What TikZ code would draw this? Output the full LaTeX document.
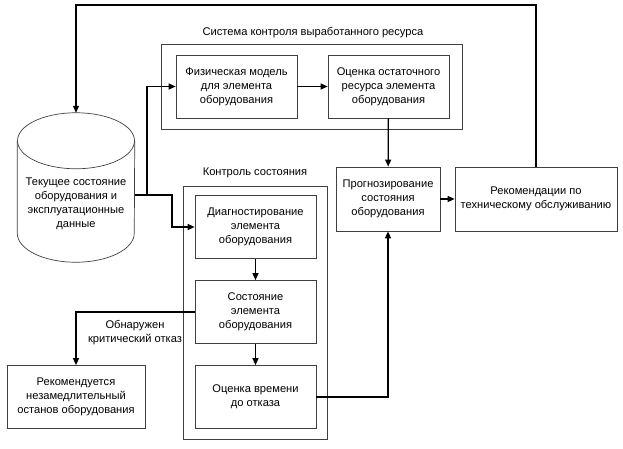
\documentclass[tikz,border=0pt]{standalone}
\usepackage{fontspec}
\setmainfont{Liberation Sans}
\usetikzlibrary{shapes.geometric,arrows.meta,positioning,calc}

\begin{document}
\begin{tikzpicture}[
    x=0.03cm, y=-0.03cm,
    font=\fontsize{9.5}{12}\selectfont,
    block/.style={rectangle, draw=black!75, line width=0.6pt, align=center, minimum width=3.63cm, minimum height=1.89cm, inner sep=2pt},
    frame/.style={rectangle, draw=black!75, line width=0.6pt},
    thinline/.style={draw=black!75, line width=0.6pt},
    arrow/.style={-{Triangle[length=2.1mm,width=1.8mm]}, line width=1.1pt}
]
    \useasboundingbox (0,0) rectangle (623,448);

    % resource control system
    \node[frame, minimum width=9.03cm, minimum height=2.55cm] (sysframe) at (311.5,86.5) {};
    \node (syslabel) at (313,33) {Система контроля выработанного ресурса};
    \node[block] (phys) at (236.5,86.5) {Физическая модель\\для элемента\\оборудования};
    \node[block] (resid) at (388.5,86.5) {Оценка остаточного\\ресурса элемента\\оборудования};

    % data store
    \node[minimum width=3.51cm, minimum height=4.47cm, inner sep=0pt] (store) at (76,187.5) {};
    \draw[thinline] ($(store.north west)+(0,-0.84cm)$) -- ($(store.south west)+(0,0.87cm)$)
        arc[start angle=180, end angle=360, x radius=1.755cm, y radius=0.87cm]
        -- ($(store.north east)+(0,-0.84cm)$);
    \draw[thinline] ($(store.north)+(0,-0.84cm)$) ellipse[x radius=1.755cm, y radius=0.84cm];
    \node[align=center] (storetext) at (76,203.5) {Текущее состояние\\оборудования и\\эксплуатационные\\данные};

    % condition monitoring
    \node[frame, minimum width=4.32cm, minimum height=7.59cm] (monframe) at (255,312.5) {};
    \node (monlabel) at (255,173) {Контроль состояния};
    \node[block] (diag) at (255.5,227) {Диагностирование\\элемента\\оборудования};
    \node[block] (state) at (255.5,312) {Состояние\\элемента\\оборудования};
    \node[block] (ttf) at (255.5,397) {Оценка времени\\до отказа};

    \node[block, minimum width=4.14cm] (stop) at (76,397) {Рекомендуется\\незамедлительный\\останов оборудования};
    \node[block, minimum width=3.12cm, minimum height=1.92cm] (forecast) at (388,199) {Прогнозирование\\состояния\\оборудования};
    \node[block, minimum width=4.86cm, minimum height=1.92cm] (advice) at (536,199) {Рекомендации по\\техническому обслуживанию};

    \node[align=center] (critlabel) at (135,333) {Обнаружен\\критический отказ};

    \coordinate (split) at (147,195);
    \coordinate (bend) at (172,195);
    \coordinate (loop) at (76,5);

    \draw[line width=1.1pt] (store.east |- split) -- (split);
    \draw[arrow] (split) |- (phys.west);
    \draw[arrow] (split) -- (bend) |- (diag.west);
    \draw[arrow] (phys) -- (resid);
    \draw[arrow] (resid) -- (forecast);
    \draw[arrow] (forecast) -- (advice);
    \draw[arrow] (diag) -- (state);
    \draw[arrow] (state) -- (ttf);
    \draw[arrow] (state.west) -| (stop.north);
    \draw[arrow] (ttf.east) -| (forecast.south);
    \draw[arrow] (advice.north) |- (loop) -- (store.north);
\end{tikzpicture}
\end{document}
